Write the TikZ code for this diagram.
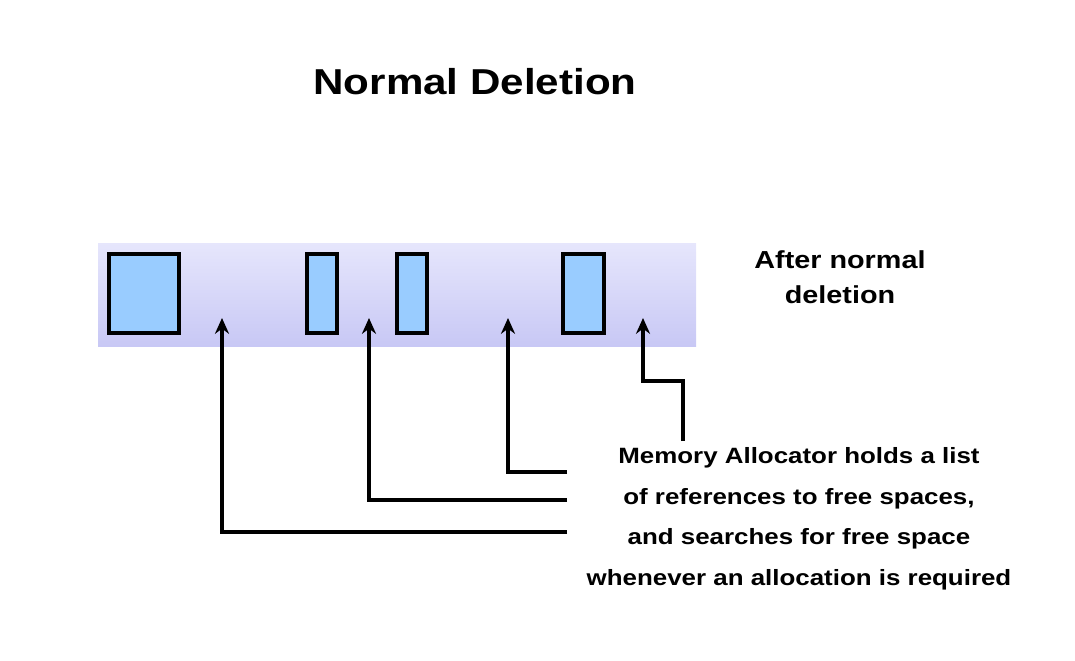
\documentclass[tikz,border=0pt]{standalone}
\usepackage{fontspec}
\setmainfont{Liberation Sans}[FakeStretch=1.17]
\usetikzlibrary{arrows.meta}
\definecolor{stripTop}{RGB}{230,230,252}
\definecolor{stripBot}{RGB}{200,200,245}
\definecolor{blockBlue}{RGB}{153,204,255}

\begin{document}
\begin{tikzpicture}[x=0.02cm, y=-0.02cm,
    block/.style={draw=black, line width=2.2pt, fill=blockBlue, inner sep=0pt, minimum height=79*0.02cm},
    pointer/.style={line width=2pt, -{Stealth[length=9pt, width=8pt]}},
    caption/.style={font=\bfseries\fontsize{12.6}{23.2}\selectfont, align=center}]
    \useasboundingbox (0,0) rectangle (1075,660);

    % Title
    \node (title) at (475,82) {\bfseries\fontsize{20.5}{24}\selectfont Normal Deletion};

    % Memory strip
    \node[inner sep=0pt, minimum width=598*0.02cm, minimum height=103*0.02cm,
          top color=stripTop, bottom color=stripBot] (strip) at (397,294.5) {};

    % Allocated blocks
    \node[block, minimum width=70*0.02cm] (b1) at (144,293.5) {};
    \node[block, minimum width=30*0.02cm] (b2) at (322,293.5) {};
    \node[block, minimum width=30*0.02cm] (b3) at (412,293.5) {};
    \node[block, minimum width=41*0.02cm] (b4) at (583.5,293.5) {};

    % Free spaces
    \coordinate (f1) at (222,318);
    \coordinate (f2) at (369,318);
    \coordinate (f3) at (508,318);
    \coordinate (f4) at (643,318);

    % Labels
    \node[font=\bfseries\fontsize{14}{20}\selectfont, align=center] (after) at (840,277) {After normal\\deletion};
    \node[caption, anchor=north] (note) at (799,441) {Memory Allocator holds a list\\of references to free spaces,\\and searches for free space\\whenever an allocation is required};

    % Bend points of the pointers
    \coordinate (e1) at (567,532);
    \coordinate (e2) at (567,500);
    \coordinate (e3) at (567,472);
    \coordinate (k4) at (683,381);

    % Pointers to free spaces
    \draw[pointer] (e1) -| (f1);
    \draw[pointer] (e2) -| (f2);
    \draw[pointer] (e3) -| (f3);
    \draw[pointer] (note.north -| k4) -- (k4) -| (f4);
\end{tikzpicture}
\end{document}
